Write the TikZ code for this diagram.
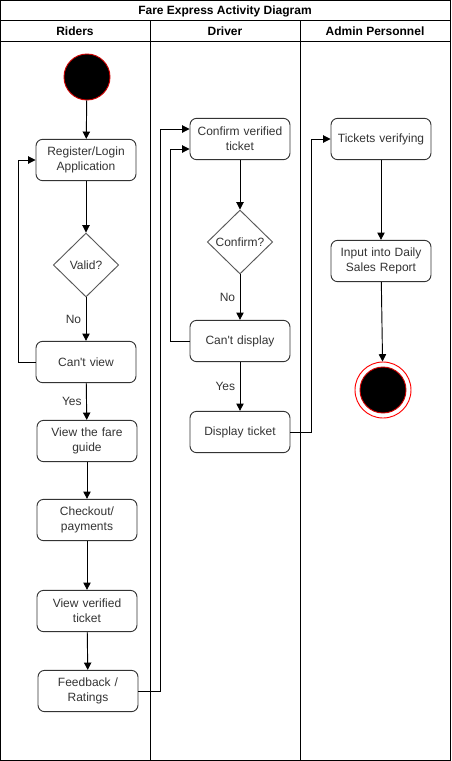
\documentclass[tikz,border=0pt]{standalone}
\usepackage{fontspec}
\setmainfont{Liberation Sans}
\usetikzlibrary{shapes.geometric}
\usetikzlibrary{arrows.meta}

\begin{document}
\begin{tikzpicture}[x=0.75pt,y=-0.75pt, line width=0.7pt,
    every node/.style={font=\fontsize{9}{11.5}\selectfont},
    lanehead/.style={font=\fontsize{9}{11}\selectfont\bfseries},
    activity/.style={draw=black!80, rounded corners=5pt, minimum width=75pt, minimum height=31pt, inner sep=0pt, align=center, text width=70pt, text=black!80},
    decision/.style={draw=black!65, diamond, minimum width=49pt, minimum height=48pt, inner sep=0pt, text=black!80},
    flow/.style={-{Triangle[length=5.5pt,width=5.5pt]}},
    guard/.style={left, text=black!80}]

    \useasboundingbox (0,0) rectangle (451,761);

    \draw (0.5,0.5) rectangle (450,760);
    \draw (0.5,20) -- (450,20);
    \draw (0.5,41) -- (450,41);
    \draw (150,20) -- (150,760);
    \draw (300,20) -- (300,760);

    \node[lanehead] (title) at (225,11) {Fare Express Activity Diagram};
    \node[lanehead] (riders) at (75,31) {Riders};
    \node[lanehead] (driver) at (225,31) {Driver};
    \node[lanehead] (admin) at (375,31) {Admin Personnel};

    \node[circle, fill=black, draw=red!80!black, minimum size=34.5pt, inner sep=0pt] (start) at (87,77) {};
    \node[activity] (login) at (86,160) {Register/Login\\Application};
    \node[decision] (valid) at (86,265) {Valid?};
    \node[activity] (cantview) at (86,362) {Can\textquotesingle t view};
    \node[activity] (fare) at (87,441) {View the fare\\guide};
    \node[activity] (checkout) at (87,520) {Checkout/\\payments};
    \node[activity] (viewticket) at (87,611) {View verified\\ticket};
    \node[activity] (feedback) at (88,691) {Feedback /\\Ratings};

    \node[activity] (confirm) at (240,139) {Confirm verified\\ticket};
    \node[decision] (confirmq) at (240,242) {Confirm?};
    \node[activity] (cantdisp) at (240,341) {Can\textquotesingle t display};
    \node[activity] (display) at (240,432) {Display ticket};

    \node[activity] (verify) at (381,139) {Tickets verifying};
    \node[activity] (report) at (381,261) {Input into Daily\\Sales Report};
    \node[circle, draw=red, minimum size=42pt, inner sep=0pt] (stop) at (383,390) {};
    \node[circle, fill=black, draw=red!80!black, minimum size=34.5pt, inner sep=0pt] (stopdot) at (stop) {};

    \draw[flow] (start) -- (login);
    \draw[flow] (login) -- (valid);
    \draw[flow] (valid) -- node[guard] {No} (cantview);
    \draw[flow] (cantview.west) -- ++(-17,0) |- (login.west);
    \draw[flow] (cantview) -- node[guard] {Yes} (fare);
    \draw[flow] (fare) -- (checkout);
    \draw[flow] (checkout) -- (viewticket);
    \draw[flow] (viewticket) -- (feedback);
    \draw[flow] (feedback.east) -- ++(22,0) |- ([yshift=7.5pt]confirm.west);

    \draw[flow] (confirm) -- (confirmq);
    \draw[flow] (confirmq) -- node[guard] {No} (cantdisp);
    \draw[flow] (cantdisp.west) -- ++(-19,0) |- ([yshift=-7.5pt]confirm.west);
    \draw[flow] (cantdisp) -- node[guard] {Yes} (display);
    \draw[flow] (display.east) -- ++(21,0) |- (verify.west);

    \draw[flow] (verify) -- (report);
    \draw[flow] (report) -- (stop);
\end{tikzpicture}
\end{document}
